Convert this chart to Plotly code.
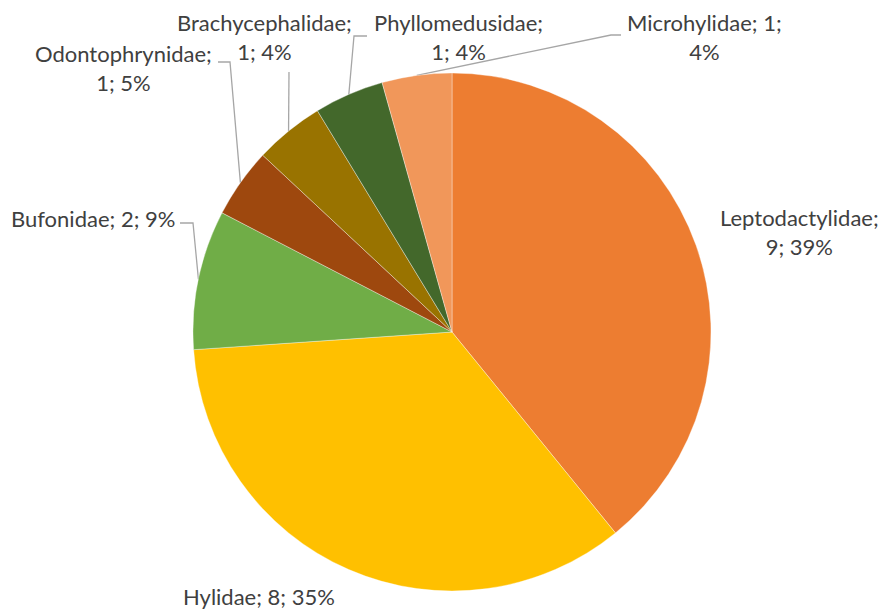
import math
import plotly.graph_objects as go

# data
families = ["Leptodactylidae", "Hylidae", "Bufonidae", "Odontophrynidae",
            "Brachycephalidae", "Phyllomedusidae", "Microhylidae"]
counts = [9, 8, 2, 1, 1, 1, 1]
pct_labels = ["39%", "35%", "9%", "5%", "4%", "4%", "4%"]
colors = ["#ED7D31", "#FFC000", "#70AD47", "#9E480E", "#997300", "#43682B", "#F1975A"]

W, H = 882, 610
CX, CY, R = 452, 332, 259

# label text, where it sits (pixel coords) and the elbow of its leader line
label_text = [
    f"{families[0]};<br>{counts[0]}; {pct_labels[0]}",
    f"{families[1]}; {counts[1]}; {pct_labels[1]}",
    f"{families[2]}; {counts[2]}; {pct_labels[2]}",
    f"{families[3]};<br>{counts[3]}; {pct_labels[3]}",
    f"{families[4]};<br>{counts[4]}; {pct_labels[4]}",
    f"{families[5]};<br>{counts[5]}; {pct_labels[5]}",
    f"{families[6]}; {counts[6]};<br>{pct_labels[6]}",
]
label_pos = [(799, 232), (259, 596), (93, 218), (123, 68), (264, 37), (458, 37), (704, 37)]
leader_elbow = [None, None, [(180, 223), (193, 223)], [(218, 62), (230, 62)],
                [(289, 72)], [(367, 36), (354, 36)], [(621, 35), (611, 35)]]

fig = go.Figure()

fig.add_trace(go.Pie(
    labels=families,
    values=counts,
    sort=False,
    direction="clockwise",
    rotation=0,
    marker=dict(colors=colors, line=dict(color="rgba(255,255,255,0.6)", width=0.6)),
    textinfo="none",
    hoverinfo="label+value+percent",
    domain=dict(x=[(CX - R) / W, (CX + R) / W], y=[(H - CY - R) / H, (H - CY + R) / H]),
    showlegend=False,
))

# leader lines: from the slice mid-angle on the rim to the label elbow
total = sum(counts)
cum = 0
for i, c in enumerate(counts):
    mid = (cum + c / 2) / total * 2 * math.pi
    cum += c
    if leader_elbow[i] is None:
        continue
    rim = (CX + R * math.sin(mid), CY - R * math.cos(mid))
    pts = leader_elbow[i] + [rim]
    fig.add_trace(go.Scatter(
        x=[p[0] for p in pts], y=[p[1] for p in pts],
        mode="lines", line=dict(color="#A6A6A6", width=1.3),
        hoverinfo="skip", showlegend=False,
    ))

for txt, (x, y) in zip(label_text, label_pos):
    fig.add_annotation(x=x, y=y, xref="x", yref="y", text=txt, showarrow=False,
                       font=dict(family="Lato", size=22, color="#404040"),
                       align="center", xanchor="center", yanchor="middle")

fig.update_xaxes(range=[0, W], visible=False, fixedrange=True)
fig.update_yaxes(range=[H, 0], visible=False, fixedrange=True)

fig.update_layout(
    width=W, height=H,
    margin=dict(l=0, r=0, t=0, b=0),
    paper_bgcolor="white", plot_bgcolor="rgba(0,0,0,0)",
)

# drop the page's default body margin so the chart sits at the window corner
fig.write_html("out.html", config={"displayModeBar": False},
               post_script="document.body.style.margin='0';")
